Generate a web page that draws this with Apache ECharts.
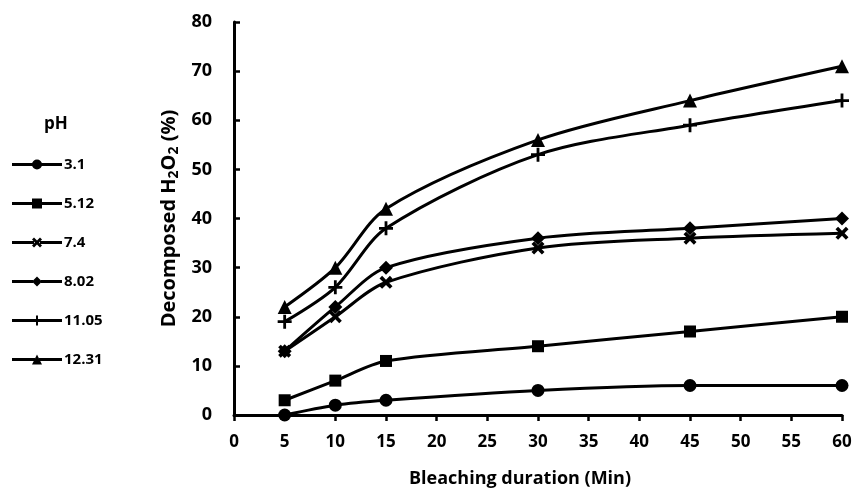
<!DOCTYPE html>
<html>
<head>
<meta charset="utf-8">
<script src="https://cdn.jsdelivr.net/npm/echarts@6/dist/echarts.min.js"></script>
<style>
  html, body { margin: 0; padding: 0; background: #fff; }
  #main { width: 857px; height: 488px; }
</style>
</head>
<body>
<div id="main"></div>
<script>
// bleaching time (min)
var minutes = [5, 10, 15, 30, 45, 60];
var phLabels = ['3.1', '5.12', '7.4', '8.02', '11.05', '12.31'];

// decomposed H2O2 (%) per pH
var ph31 = [0, 2, 3, 5, 6, 6];
var ph512 = [3, 7, 11, 14, 17, 20];
var ph74 = [13, 20, 27, 34, 36, 37];
var ph802 = [13, 22, 30, 36, 38, 40];
var ph1105 = [19, 26, 38, 53, 59, 64];
var ph1231 = [22, 30, 42, 56, 64, 71];

var crossPath = 'path://M2,0 L5,3 L8,0 L10,2 L7,5 L10,8 L8,10 L5,7 L2,10 L0,8 L3,5 L0,2 Z';
var plusPath = 'path://M4,0 H6 V4 H10 V6 H6 V10 H4 V6 H0 V4 H4 Z';

// legend icons: thick line with the marker in the middle (box 50 x 10)
function bars(a, b) {
  return 'M0,3.5 H' + a + ' V6.5 H0 Z M' + b + ',3.5 H50 V6.5 H' + b + ' Z ';
}
var legendIcons = [
  'path://' + bars(21, 29) + 'M20,5 A5,5 0 1 1 30,5 A5,5 0 1 1 20,5 Z',
  'path://' + bars(20, 30) + 'M20,0 H30 V10 H20 Z',
  'path://' + bars(22, 28) + 'M20,2 L22,0 L25,3 L28,0 L30,2 L27,5 L30,8 L28,10 L25,7 L22,10 L20,8 L23,5 Z',
  'path://' + bars(21, 29) + 'M25,0 L30,5 L25,10 L20,5 Z',
  'path://M0,3.5 H50 V6.5 H0 Z M24,0 H26 V10 H24 Z',
  'path://' + bars(23, 27) + 'M25,0 L30,10 L20,10 Z'
];

var font = '"Open Sans", "DejaVu Sans", sans-serif';
var allData = [ph31, ph512, ph74, ph802, ph1105, ph1231];
var symbols = ['circle', 'rect', crossPath, 'diamond', plusPath, 'triangle'];
var sizes = [13, 12, 13, 14, 14, 14];

function pairs(vals) {
  return vals.map(function (v, i) { return [minutes[i], v]; });
}

var series = allData.map(function (vals, i) {
  return {
    name: phLabels[i],
    type: 'line',
    smooth: 0.3,
    data: pairs(vals),
    symbol: symbols[i],
    symbolSize: sizes[i],
    showAllSymbol: true,
    lineStyle: { color: '#000', width: 3 },
    itemStyle: { color: '#000', borderWidth: 0 },
    emphasis: { disabled: true },
    animation: false
  };
});

var chart = echarts.init(document.getElementById('main'));
chart.setOption({
  backgroundColor: '#fff',
  animation: false,
  title: {
    text: 'pH',
    left: 39,
    top: 111,
    textStyle: { fontFamily: font, fontWeight: 'bold', fontSize: 17, color: '#000' }
  },
  legend: {
    orient: 'vertical',
    left: 7,
    top: 152,
    itemWidth: 50,
    itemHeight: 10,
    itemGap: 24,
    data: phLabels.map(function (p, i) { return { name: p, icon: legendIcons[i] }; }),
    itemStyle: { color: '#000', borderWidth: 0 },
    textStyle: { fontFamily: font, fontWeight: 'bold', fontSize: 15, color: '#000', padding: [0, 0, 0, -3] }
  },
  grid: { left: 234, right: 15, top: 22, bottom: 73, containLabel: false, outerBoundsMode: 'none' },
  xAxis: {
    type: 'value',
    min: 0,
    max: 60,
    interval: 5,
    name: 'Bleaching duration (Min)',
    nameLocation: 'middle',
    nameGap: 55,
    nameTextStyle: { fontFamily: font, fontWeight: 'bold', fontSize: 18, color: '#000', padding: [0, 36, 0, 0] },
    axisLine: { lineStyle: { color: '#000', width: 3 } },
    axisTick: { inside: false, length: 6, lineStyle: { color: '#000', width: 2.5 } },
    axisLabel: { fontFamily: font, fontWeight: 'bold', fontSize: 17, color: '#000', margin: 19 },
    splitLine: { show: false }
  },
  yAxis: {
    type: 'value',
    min: 0,
    max: 80,
    interval: 10,
    name: 'Decomposed H{sub|2}O{sub|2} (%)',
    nameLocation: 'middle',
    nameGap: 51,
    nameTextStyle: {
      fontFamily: font, fontWeight: 'bold', fontSize: 20, color: '#000',
      rich: {
        sub: { fontFamily: font, fontWeight: 'bold', fontSize: 14, color: '#000', verticalAlign: 'bottom', padding: [8, 0, 0, 0] }
      }
    },
    axisLine: { show: true, lineStyle: { color: '#000', width: 3 } },
    axisTick: { show: true, inside: true, length: 6, lineStyle: { color: '#000', width: 2.5 } },
    axisLabel: { fontFamily: font, fontWeight: 'bold', fontSize: 18, color: '#000', margin: 22 },
    splitLine: { show: false }
  },
  series: series
});
</script>
</body>
</html>
